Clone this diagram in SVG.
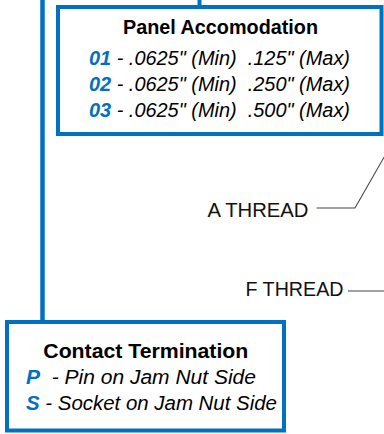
<svg xmlns="http://www.w3.org/2000/svg" width="384" height="434" viewBox="0 0 384 434">
  <style>
    .box { fill: #ffffff; stroke: #0070C0; stroke-width: 4; }
    .bus { stroke: #0070C0; fill: none; }
    .leader { stroke: #444444; stroke-width: 1.1; fill: none; }
    .title { font-family: "Liberation Sans", Arial, sans-serif; font-weight: bold; font-size: 19.5px; fill: #000000; }
    .item { font-family: "Liberation Sans", Arial, sans-serif; font-style: italic; font-size: 19.5px; fill: #000000; }
    .code { font-weight: bold; fill: #0070C0; }
    .lbl { font-family: "Liberation Sans", Arial, sans-serif; font-size: 19.5px; fill: #111111; }
  </style>
  <rect width="384" height="434" fill="#ffffff"/>
  <g id="connectors">
    <line class="bus" x1="42.5" y1="0" x2="42.5" y2="322" stroke-width="4.5"/>
    <line class="bus" x1="199.5" y1="0" x2="199.5" y2="7" stroke-width="4"/>
    <polyline class="leader" points="316.5,208 355,208 387,152"/>
    <line class="leader" x1="348" y1="291" x2="384" y2="291" stroke="#666666"/>
  </g>
  <g id="panel-accommodation">
    <rect class="box" x="58" y="7" width="323.5" height="127"/>
    <text class="title" x="220.5" y="34" text-anchor="middle" textLength="195" lengthAdjust="spacingAndGlyphs">Panel Accomodation</text>
    <text class="item" x="89" y="65" xml:space="preserve" textLength="261" lengthAdjust="spacingAndGlyphs"><tspan class="code">01</tspan> - .0625" (Min)  .125" (Max)</text>
    <text class="item" x="89" y="91" xml:space="preserve" textLength="261" lengthAdjust="spacingAndGlyphs"><tspan class="code">02</tspan> - .0625" (Min)  .250" (Max)</text>
    <text class="item" x="89" y="117" xml:space="preserve" textLength="261" lengthAdjust="spacingAndGlyphs"><tspan class="code">03</tspan> - .0625" (Min)  .500" (Max)</text>
  </g>
  <g id="a-thread">
    <text class="lbl" x="207.5" y="216.5" textLength="101" lengthAdjust="spacingAndGlyphs">A THREAD</text>
  </g>
  <g id="f-thread">
    <text class="lbl" x="245.5" y="296" textLength="98" lengthAdjust="spacingAndGlyphs">F THREAD</text>
  </g>
  <g id="contact-termination">
    <rect class="box" x="7" y="322" width="277" height="108.5"/>
    <text class="title" x="145.8" y="358" text-anchor="middle" textLength="205" lengthAdjust="spacingAndGlyphs">Contact Termination</text>
    <text class="item" x="26" y="384" xml:space="preserve" textLength="230" lengthAdjust="spacingAndGlyphs"><tspan class="code">P</tspan>  - Pin on Jam Nut Side</text>
    <text class="item" x="26" y="410" xml:space="preserve" textLength="251" lengthAdjust="spacingAndGlyphs"><tspan class="code">S</tspan> - Socket on Jam Nut Side</text>
  </g>
</svg>
